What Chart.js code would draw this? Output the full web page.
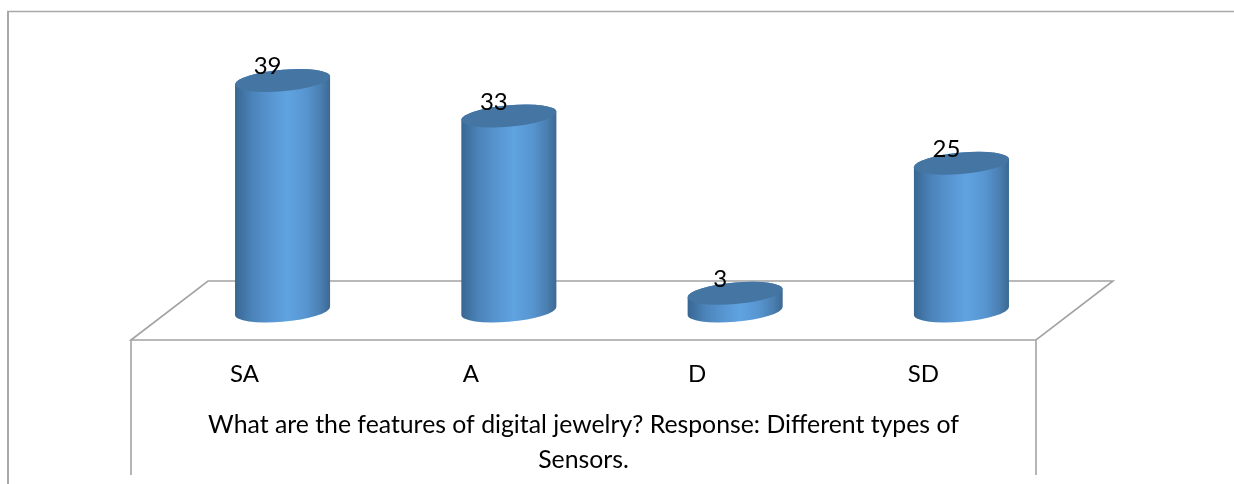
<!DOCTYPE html>
<html>
<head>
<meta charset="utf-8">
<title>Digital jewelry survey</title>
<style>
  html, body { margin: 0; padding: 0; background: #fff; overflow: hidden; }
  #wrap { position: relative; width: 1234px; height: 484px; }
</style>
<script src="https://cdn.jsdelivr.net/npm/chart.js@4/dist/chart.umd.min.js"></script>
</head>
<body>
<div id="wrap"><canvas id="chart" width="1234" height="484"></canvas></div>
<script>
const categories = ["SA", "A", "D", "SD"];
const responses = [39, 33, 3, 25];
const axisTitleLines = ["What are the features of digital jewelry? Response: Different types of", "Sensors."];

const FONT_FAMILY = "Lato, 'Open Sans', sans-serif";
const FONT_SIZE = 24;
const CAPTION_SIZE = 24.8;
const LINE_GREY = "#a3a3a3";

// Outer frame and the 3D floor with its front panel.
const floorPlugin = {
  id: "floor",
  beforeDatasetsDraw(chart) {
    const { ctx } = chart;
    ctx.save();
    ctx.strokeStyle = "#a8a8a8";
    ctx.lineWidth = 1.4;
    ctx.beginPath();
    ctx.moveTo(7, 11.5); ctx.lineTo(1234, 11.5);
    ctx.stroke();
    ctx.lineWidth = 2;
    ctx.beginPath();
    ctx.moveTo(8, 11); ctx.lineTo(8, 484);
    ctx.stroke();

    ctx.strokeStyle = LINE_GREY;
    ctx.lineWidth = 1.6;
    ctx.beginPath();
    ctx.moveTo(131, 340); ctx.lineTo(208, 281); ctx.lineTo(1113, 281);
    ctx.lineTo(1036, 340); ctx.closePath();
    ctx.moveTo(131, 340); ctx.lineTo(131, 475);
    ctx.moveTo(1036, 340); ctx.lineTo(1036, 475);
    ctx.stroke();
    ctx.restore();
  }
};

// Turns each bar element into a tilted cylinder, then writes its value label.
const cylinderPlugin = {
  id: "cylinders",
  afterDatasetsDraw(chart) {
    const { ctx } = chart;
    const meta = chart.getDatasetMeta(0);
    meta.data.forEach((bar, i) => {
      const cx = bar.x, topY = bar.y, baseY = bar.base;
      const a = bar.width / 2;
      const b = 10.8, tilt = 4 / 47.5;

      const body = ctx.createLinearGradient(cx - a, 0, cx + a, 0);
      body.addColorStop(0, "#3a6690");
      body.addColorStop(0.07, "#3f72a2");
      body.addColorStop(0.18, "#4b83b9");
      body.addColorStop(0.35, "#5693ce");
      body.addColorStop(0.55, "#5fa3e1");
      body.addColorStop(0.75, "#5795d0");
      body.addColorStop(0.9, "#4a7fb1");
      body.addColorStop(1, "#3d6992");

      ctx.save();
      ctx.beginPath();
      ctx.save();
      ctx.transform(1, -tilt, 0, 1, cx, baseY);
      ctx.ellipse(0, 0, a, b, 0, 0, Math.PI);
      ctx.restore();
      ctx.save();
      ctx.transform(1, -tilt, 0, 1, cx, topY);
      ctx.ellipse(0, 0, a, b, 0, Math.PI, 2 * Math.PI);
      ctx.restore();
      ctx.closePath();
      ctx.fillStyle = body;
      ctx.fill();

      ctx.beginPath();
      ctx.transform(1, -tilt, 0, 1, cx, topY);
      ctx.ellipse(0, 0, a, b, 0, 0, 2 * Math.PI);
      ctx.fillStyle = "#4575a3";
      ctx.fill();
      ctx.restore();

      ctx.save();
      ctx.font = `${FONT_SIZE}px ${FONT_FAMILY}`;
      ctx.fillStyle = "#000";
      ctx.textAlign = "center";
      ctx.textBaseline = "middle";
      ctx.fillText(String(responses[i]), cx - 15, topY - 14);
      ctx.restore();
    });
  }
};

// Two-line caption centred under the front panel of the floor.
const captionPlugin = {
  id: "caption",
  afterDraw(chart) {
    const { ctx } = chart;
    ctx.save();
    ctx.font = `${CAPTION_SIZE}px ${FONT_FAMILY}`;
    ctx.fillStyle = "#000";
    ctx.textAlign = "center";
    ctx.textBaseline = "middle";
    axisTitleLines.forEach((line, i) => ctx.fillText(line, 583.5, 425 + i * 35));
    ctx.restore();
  }
};

new Chart(document.getElementById("chart"), {
  type: "bar",
  data: {
    labels: categories,
    datasets: [{ data: responses, backgroundColor: "rgba(0,0,0,0)", barPercentage: 0.42, categoryPercentage: 1 }]
  },
  plugins: [floorPlugin, cylinderPlugin, captionPlugin],
  options: {
    responsive: false,
    animation: false,
    layout: { padding: { top: 45, left: 169.4, right: 159.4, bottom: 0 } },
    plugins: { legend: { display: false }, tooltip: { enabled: false }, title: { display: false } },
    scales: {
      x: {
        afterFit(scale) { scale.height = 173; },
        grid: { display: false, drawTicks: false },
        border: { display: false },
        ticks: {
          color: "#000",
          font: { family: FONT_FAMILY, size: FONT_SIZE },
          labelOffset: -38,
          padding: 49,
          maxRotation: 0
        }
      },
      y: { display: false, min: 0, max: 45 }
    }
  }
});
</script>
</body>
</html>
